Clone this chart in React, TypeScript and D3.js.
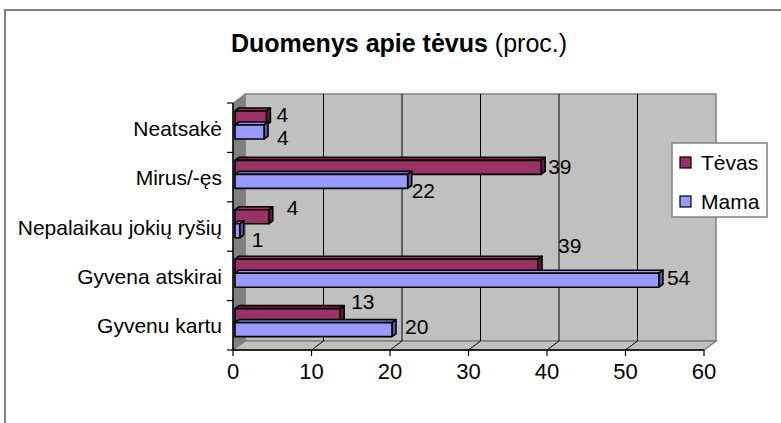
import React from 'react';
import * as d3 from 'd3';

const categories = ['Neatsakė', 'Mirus/-ęs', 'Nepalaikau jokių ryšių', 'Gyvena atskirai', 'Gyvenu kartu'];
const seriesNames = ['Tėvas', 'Mama'];
const tevas = [4, 39, 4.3, 38.6, 13.4];
const mama = [3.7, 22, 0.6, 54, 20];
const xTicks = [0, 10, 20, 30, 40, 50, 60];

// label nudges (dx, dy) from the bar end, like Excel placed them
const tevasLabelShift = [[6, -4], [3, -1], [14, -10], [16, -21], [7, -15]];
const mamaLabelShift = [[9, 5], [0, 9], [8, 8], [4, -3], [9, -4]];

const colors = ['#993366', '#9999FF'];
const sideColors = ['#5c1f3d', '#5c5c99'];
const font = '"Liberation Sans", Arial, sans-serif';

const App = () => {
  const W = 781;
  const H = 423;
  // front plane of the 3D box
  const left = 233;
  const right = 704;
  const top = 103;
  const bottom = 350;
  const depthX = 12;
  const depthY = -9;
  // bars sit a bit behind the front plane
  const barOffX = 2;
  const barDX = 4;
  const barDY = -3;

  const x = d3.scaleLinear().domain([0, 60]).range([left, right]);
  const y = d3.scaleBand().domain(categories).range([top, bottom]);
  const ySub = d3.scaleBand().domain(seriesNames).range([8, 36]);

  const values = [tevas, mama];
  const shifts = [tevasLabelShift, mamaLabelShift];

  const bars: any[] = [];
  const labels: any[] = [];
  seriesNames.forEach((s, si) => {
    categories.forEach((c, ci) => {
      const v = values[si][ci];
      const x0 = x(0) + barOffX;
      const x1 = x(v) + barOffX;
      const y0 = (y(c) as number) + (ySub(s) as number);
      const h = ySub.bandwidth();
      const topFace = `M${x0},${y0}L${x0 + barDX},${y0 + barDY}L${x1 + barDX},${y0 + barDY}L${x1},${y0}Z`;
      const sideFace = `M${x1},${y0}L${x1 + barDX},${y0 + barDY}L${x1 + barDX},${y0 + h + barDY}L${x1},${y0 + h}Z`;
      bars.push(
        <g key={`b-${si}-${ci}`} stroke="#000" strokeWidth={1.6} strokeLinejoin="round">
          <path d={topFace} fill={colors[si]} />
          <path d={sideFace} fill={sideColors[si]} />
          <rect x={x0} y={y0} width={Math.max(0, x1 - x0)} height={h} fill={colors[si]} />
        </g>
      );
      const [dx, dy] = shifts[si][ci];
      labels.push(
        <text
          key={`l-${si}-${ci}`}
          x={x1 + barDX + dx}
          y={y0 + h / 2 + dy + 8}
          fontSize={21}
          fill="#000"
        >
          {Math.round(v)}
        </text>
      );
    });
  });

  return (
    <svg
      width={W}
      height={H}
      style={{ position: 'absolute', left: 0, top: 0, background: '#fff' }}
      fontFamily={font}
    >
      {/* outer chart frame */}
      <rect x={5} y={10} width={W + 10} height={H + 10} fill="#fff" stroke="#808080" strokeWidth={2} />

      {/* title */}
      <text x={399} y={52} textAnchor="middle" fontSize={25} fill="#000">
        <tspan fontWeight="bold">Duomenys apie tėvus</tspan>
        <tspan> (proc.)</tspan>
      </text>

      {/* back wall */}
      <rect
        x={left + depthX}
        y={top + depthY}
        width={right - left}
        height={bottom - top}
        fill="#C0C0C0"
        stroke="#808080"
        strokeWidth={1.5}
      />
      {/* left wall */}
      <path
        d={`M${left},${top}L${left + depthX},${top + depthY}L${left + depthX},${bottom + depthY}L${left},${bottom}Z`}
        fill="#808080"
        stroke="#808080"
      />
      {/* floor */}
      <path
        d={`M${left},${bottom}L${left + depthX},${bottom + depthY}L${right + depthX},${bottom + depthY}L${right},${bottom}Z`}
        fill="#C0C0C0"
        stroke="#808080"
        strokeWidth={1.5}
      />

      {/* gridlines on wall and floor */}
      {xTicks.slice(1, -1).map((t) => (
        <g key={`g-${t}`} stroke="#000" strokeWidth={1}>
          <line x1={x(t) + depthX} x2={x(t) + depthX} y1={top + depthY} y2={bottom + depthY} />
          <line x1={x(t)} x2={x(t) + depthX} y1={bottom} y2={bottom + depthY} />
        </g>
      ))}

      {/* axes */}
      <line x1={left} x2={left} y1={top} y2={bottom} stroke="#000" strokeWidth={1.5} />
      <line x1={left} x2={right} y1={bottom} y2={bottom} stroke="#000" strokeWidth={1.5} />
      {xTicks.map((t) => (
        <g key={`t-${t}`}>
          <line x1={x(t)} x2={x(t)} y1={bottom} y2={bottom + 6} stroke="#000" strokeWidth={1.2} />
          <text x={x(t)} y={379} textAnchor="middle" fontSize={22} fill="#000">
            {t}
          </text>
        </g>
      ))}
      {[...categories.map((c) => y(c) as number), bottom].map((v, i) => (
        <line key={`ct-${i}`} x1={left - 6} x2={left} y1={v} y2={v} stroke="#000" strokeWidth={1.2} />
      ))}
      {categories.map((c) => (
        <text
          key={`c-${c}`}
          x={222}
          y={(y(c) as number) + y.bandwidth() / 2 + 8}
          textAnchor="end"
          fontSize={21}
          fill="#000"
        >
          {c}
        </text>
      ))}

      {/* bars */}
      {bars}
      {labels}

      {/* legend */}
      <rect x={672} y={143} width={95} height={74} fill="#fff" stroke="#808080" strokeWidth={1.5} />
      {seriesNames.map((s, i) => (
        <g key={`lg-${s}`}>
          <rect x={680} y={157 + i * 39} width={11} height={11} fill={colors[i]} stroke="#000" strokeWidth={1.2} />
          <text x={701} y={170 + i * 39} fontSize={21} fill="#000">
            {s}
          </text>
        </g>
      ))}
    </svg>
  );
};

export default App;
